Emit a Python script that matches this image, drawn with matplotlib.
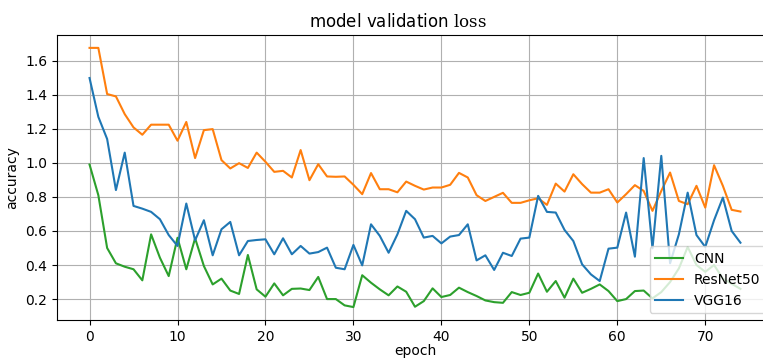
import matplotlib
matplotlib.use("Agg")
import matplotlib.pyplot as plt
import numpy as np

# validation values per epoch
cnn = [
    0.99, 0.81, 0.50, 0.41, 0.39, 0.375, 0.31, 0.58, 0.443, 0.335,
    0.56, 0.375, 0.557, 0.394, 0.286, 0.32, 0.25, 0.23, 0.459, 0.257,
    0.214, 0.292, 0.222, 0.26, 0.262, 0.253, 0.33, 0.20, 0.20, 0.163,
    0.153, 0.34, 0.296, 0.257, 0.222, 0.274, 0.243, 0.155, 0.188, 0.263,
    0.212, 0.224, 0.267, 0.241, 0.218, 0.192, 0.182, 0.178, 0.241, 0.224,
    0.237, 0.35, 0.243, 0.306, 0.208, 0.32, 0.237, 0.26, 0.286, 0.247,
    0.188, 0.20, 0.247, 0.25, 0.204, 0.241, 0.30, 0.38, 0.506, 0.40,
    0.36, 0.40, 0.32, 0.29, 0.26,
]
resnet50 = [
    1.675, 1.675, 1.404, 1.39, 1.286, 1.208, 1.165, 1.224, 1.224, 1.224,
    1.13, 1.24, 1.028, 1.192, 1.198, 1.016, 0.967, 0.998, 0.97, 1.06,
    1.006, 0.947, 0.953, 0.914, 1.075, 0.898, 0.992, 0.92, 0.918, 0.92,
    0.871, 0.816, 0.94, 0.845, 0.845, 0.827, 0.89, 0.865, 0.843, 0.855,
    0.855, 0.871, 0.941, 0.914, 0.81, 0.776, 0.8, 0.824, 0.765, 0.765,
    0.78, 0.792, 0.753, 0.878, 0.831, 0.933, 0.875, 0.825, 0.825, 0.845,
    0.767, 0.816, 0.869, 0.835, 0.718, 0.835, 0.943, 0.776, 0.757, 0.865,
    0.737, 0.986, 0.865, 0.724, 0.714,
]
vgg16 = [
    1.498, 1.27, 1.14, 0.84, 1.06, 0.747, 0.731, 0.712, 0.669, 0.576,
    0.512, 0.761, 0.545, 0.663, 0.457, 0.61, 0.653, 0.457, 0.541, 0.547,
    0.551, 0.463, 0.557, 0.463, 0.512, 0.467, 0.476, 0.502, 0.384, 0.375,
    0.518, 0.398, 0.639, 0.571, 0.472, 0.58, 0.718, 0.669, 0.561, 0.571,
    0.527, 0.567, 0.576, 0.639, 0.427, 0.457, 0.371, 0.472, 0.453, 0.555,
    0.561, 0.806, 0.712, 0.708, 0.606, 0.541, 0.404, 0.345, 0.306, 0.496,
    0.502, 0.708, 0.449, 1.028, 0.498, 1.041, 0.41, 0.58, 0.825, 0.576,
    0.506, 0.663, 0.796, 0.6, 0.531,
]
epochs = np.arange(len(cnn))

plt.rcParams["mathtext.fontset"] = "dejavuserif"

fig = plt.figure(figsize=(7.63, 3.6), dpi=100)
# the axes run a little past the right edge, as in the reference screenshot
ax = fig.add_axes([0.0747, 0.111, 0.9384, 0.792])

ax.plot(epochs, cnn, color="tab:green", label="CNN")
ax.plot(epochs, resnet50, color="tab:orange", label="ResNet50")
ax.plot(epochs, vgg16, color="tab:blue", label="VGG16")

ax.set_title(r"model validation $\mathrm{loss}$", x=0.476, fontsize=12)
ax.set_xlabel("epoch", labelpad=0)
ax.set_ylabel("accuracy")
ax.grid(True)
ax.legend(loc="lower right")

fig.savefig("out.png", dpi=100)
